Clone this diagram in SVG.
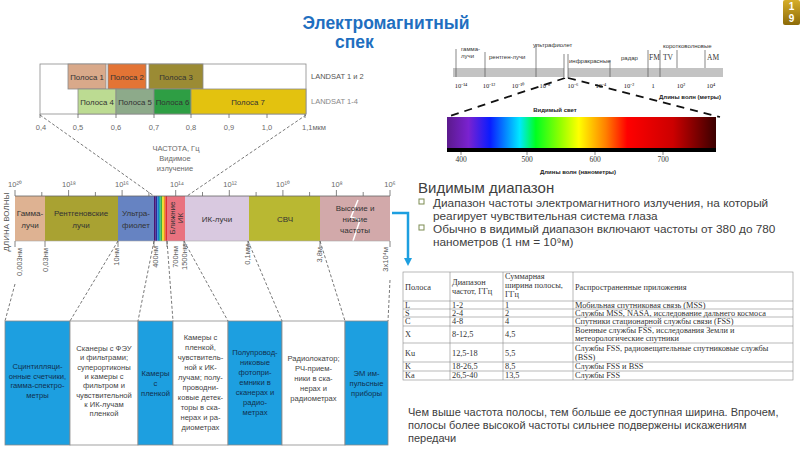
<svg xmlns="http://www.w3.org/2000/svg" width="800" height="450" viewBox="0 0 800 450">
<defs>
<linearGradient id="rainbow" x1="0" x2="1" y1="0" y2="0">
<stop offset="0" stop-color="#5b1a8c"/>
<stop offset="0.08" stop-color="#7a22d0"/>
<stop offset="0.16" stop-color="#0a1cff"/>
<stop offset="0.27" stop-color="#00e8ff"/>
<stop offset="0.33" stop-color="#00ff20"/>
<stop offset="0.42" stop-color="#90ff00"/>
<stop offset="0.49" stop-color="#ffff00"/>
<stop offset="0.59" stop-color="#ff8000"/>
<stop offset="0.67" stop-color="#ff0000"/>
<stop offset="0.84" stop-color="#cc0000"/>
<stop offset="1" stop-color="#3a0000"/>
</linearGradient>
<linearGradient id="gold" x1="0" x2="0" y1="0" y2="1">
<stop offset="0" stop-color="#d6ae2a"/>
<stop offset="1" stop-color="#8c6a08"/>
</linearGradient>
<marker id="arr" markerWidth="8" markerHeight="8" refX="4" refY="4" orient="auto" markerUnits="userSpaceOnUse">
<path d="M0,0 L8,4 L0,8 z" fill="#1d9fe0"/>
</marker>
</defs>
<style>
.s{font-family:"Liberation Sans",Arial,sans-serif;}
.r{font-family:"Liberation Serif","Times New Roman",serif;}
.band{stroke:#8a8a8a;stroke-width:0.8;}
.bt{font-size:7.8px;fill:#333;text-anchor:middle;}
.ax{font-size:7.5px;fill:#6a6a6a;text-anchor:middle;}
.tick{stroke:#666;stroke-width:0.8;}
.dash{stroke:#555;stroke-width:0.8;fill:none;stroke-dasharray:3,2;}
.seg{font-size:8px;fill:#333;text-anchor:middle;}
.wl{font-size:7.5px;fill:#5a5a5a;text-anchor:end;}
.box{stroke:#8a8a8a;stroke-width:0.8;}
.blue{fill:#1d9fe0;}
.white{fill:#ffffff;}
.bx{font-size:7.6px;text-anchor:middle;}
.bxb{fill:#10304f;}
.bxw{fill:#444;}
.tr{font-size:6px;fill:#333;}
.trn{font-size:6.5px;fill:#222;text-anchor:middle;}
.sep{stroke:#555;stroke-width:0.7;}
.bold{font-weight:bold;}
.body{font-size:11.8px;fill:#404040;}
.tb{font-size:8.3px;fill:#333;}
.tl{stroke:#8a8a8a;stroke-width:0.6;fill:none;}
</style>
<rect width="800" height="450" fill="#ffffff"/>

<g id="title">
<text class="s bold" x="386" y="29" font-size="17.5" fill="#1f6fc0" text-anchor="middle">Электромагнитный</text>
<text class="s bold" x="335" y="48" font-size="17.5" fill="#1f6fc0">спек</text>
</g>

<g id="badge">
<rect x="783" y="0" width="17" height="25" rx="2" fill="url(#gold)"/>
<text class="s bold" x="791.5" y="10" font-size="10" fill="#ffffff" text-anchor="middle">1</text>
<text class="s bold" x="791.5" y="22" font-size="10" fill="#ffffff" text-anchor="middle">9</text>
</g>

<g id="landsat">
<rect x="40" y="64" width="266" height="50" fill="#ffffff" class="band"/>
<rect x="68" y="64" width="38" height="25" fill="#d9a98a" class="band"/>
<rect x="108" y="64" width="38" height="25" fill="#e37435" class="band"/>
<rect x="149" y="64" width="54" height="25" fill="#9b8b34" class="band"/>
<rect x="78" y="89" width="38" height="25" fill="#bcdb92" class="band"/>
<rect x="116" y="89" width="38" height="25" fill="#8daa8a" class="band"/>
<rect x="154" y="89" width="37" height="25" fill="#2e9e44" class="band"/>
<rect x="191" y="89" width="115" height="25" fill="#e3c20f" class="band"/>
<text class="s bt" x="87" y="80">Полоса 1</text>
<text class="s bt" x="127" y="80">Полоса 2</text>
<text class="s bt" x="176" y="80">Полоса 3</text>
<text class="s bt" x="97" y="105">Полоса 4</text>
<text class="s bt" x="135" y="105">Полоса 5</text>
<text class="s bt" x="172.5" y="105">Полоса 6</text>
<text class="s bt" x="248" y="105">Полоса 7</text>
<text class="s" x="311" y="79" font-size="7.5" fill="#555">LANDSAT 1 и 2</text>
<text class="s" x="311" y="104" font-size="7.5" fill="#888">LANDSAT 1-4</text>
<path class="tick" d="M40,114 V118 M78,114 V118 M116,114 V118 M154,114 V118 M191,114 V118 M229,114 V118 M267,114 V118 M305,114 V118"/>
<text class="s ax" x="41" y="130">0,4</text>
<text class="s ax" x="78" y="130">0,5</text>
<text class="s ax" x="116" y="130">0,6</text>
<text class="s ax" x="154" y="130">0,7</text>
<text class="s ax" x="191" y="130">0,8</text>
<text class="s ax" x="229" y="130">0,9</text>
<text class="s ax" x="267" y="130">1,0</text>
<text class="s ax" x="314" y="130">1,1мкм</text>
</g>

<g id="freq-label">
<text class="s ax" x="176" y="151">ЧАСТОТА, Гц</text>
<text class="s ax" x="175" y="161">Видимое</text>
<text class="s ax" x="175" y="171">излучение</text>
</g>

<g id="spectrum-bar">
<rect x="15" y="196" width="30" height="45" fill="#deb292"/>
<rect x="45" y="196" width="73" height="45" fill="#a9a232"/>
<rect x="118" y="196" width="36" height="45" fill="#6683c2"/>
<rect x="154" y="196" width="1.7" height="45" fill="#4b1470"/>
<rect x="155.6" y="196" width="1.7" height="45" fill="#2a2a9a"/>
<rect x="157.3" y="196" width="1.7" height="45" fill="#1a7ad0"/>
<rect x="158.9" y="196" width="1.7" height="45" fill="#20b0a0"/>
<rect x="160.5" y="196" width="1.7" height="45" fill="#40b040"/>
<rect x="162.1" y="196" width="1.7" height="45" fill="#ece020"/>
<rect x="163.8" y="196" width="1.7" height="45" fill="#f09020"/>
<rect x="165.4" y="196" width="1.6" height="45" fill="#e03030"/>
<rect x="167" y="196" width="18" height="45" fill="#e9727f"/>
<rect x="185" y="196" width="64" height="45" fill="#d9c9e0"/>
<rect x="249" y="196" width="71" height="45" fill="#b9b832"/>
<rect x="320" y="196" width="70" height="45" fill="#d2a9aa"/>
<polyline points="358,200 351,217 360,220 353,241" fill="none" stroke="#ffffff" stroke-width="1.5"/>
<line x1="15" y1="196" x2="390" y2="196" class="tick"/>
<line x1="15" y1="241" x2="390" y2="241" stroke="#aaa" stroke-width="0.6"/>
<path class="tick" d="M15,190 V196 M68.6,190 V196 M122.1,190 V196 M175.7,190 V196 M229.3,190 V196 M282.9,190 V196 M336.4,190 V196 M390,190 V196 M41.8,192 V196 M95.4,192 V196 M148.9,192 V196 M202.5,192 V196 M256.1,192 V196 M309.6,192 V196 M363.2,192 V196"/>
<text class="s ax" x="15" y="187" font-size="8">10²⁰</text>
<text class="s ax" x="69" y="187" font-size="8">10¹⁸</text>
<text class="s ax" x="122" y="187" font-size="8">10¹⁶</text>
<text class="s ax" x="177" y="187" font-size="8">10¹⁴</text>
<text class="s ax" x="230" y="187" font-size="8">10¹²</text>
<text class="s ax" x="283" y="187" font-size="8">10¹⁰</text>
<text class="s ax" x="337" y="187" font-size="8">10⁸</text>
<text class="s ax" x="390" y="187" font-size="8">10⁶</text>
<text class="s seg" x="30" y="216">Гамма-</text>
<text class="s seg" x="30" y="228">лучи</text>
<text class="s seg" x="81" y="216">Рентгеновские</text>
<text class="s seg" x="81" y="228">лучи</text>
<text class="s seg" x="136" y="216">Ультра-</text>
<text class="s seg" x="136" y="228">фиолет</text>
<text class="s seg" transform="translate(175,218) rotate(-90)" fill="#ffffff">Ближние</text>
<text class="s seg" transform="translate(183,218) rotate(-90)" fill="#5a1020">ИК</text>
<text class="s seg" x="217" y="222">ИК-лучи</text>
<text class="s seg" x="285" y="222">СВЧ</text>
<text class="s seg" x="355" y="211">Высокие и</text>
<text class="s seg" x="355" y="222">низкие</text>
<text class="s seg" x="355" y="233">частоты</text>
<text class="s" transform="translate(9,222) rotate(-90)" font-size="8" fill="#555" text-anchor="middle">ДЛИНА ВОЛНЫ</text>
<path class="tick" d="M15,241 V247 M45,241 V247 M118,241 V247 M154,241 V247 M167,241 V247 M184,241 V247 M248,241 V247 M320,241 V247 M390,241 V247"/>
<text class="s wl" transform="translate(22,248) rotate(-90)">0,003нм</text>
<text class="s wl" transform="translate(48,248) rotate(-90)">0,03нм</text>
<text class="s wl" transform="translate(119,248) rotate(-90)">10нм</text>
<text class="s wl" transform="translate(158,246) rotate(-90)">400нм</text>
<text class="s wl" transform="translate(178,246) rotate(-90)">700нм</text>
<text class="s wl" transform="translate(187,244) rotate(-90)">1500нм</text>
<text class="s wl" transform="translate(250,244) rotate(-90)">0,1мм</text>
<text class="s wl" transform="translate(322,247) rotate(-90)">3,8м</text>
<text class="s wl" transform="translate(388,247) rotate(-90)">3х10⁴м</text>
</g>

<g id="connectors">
<line class="dash" x1="40" y1="115" x2="154" y2="196"/>
<line class="dash" x1="306" y1="115" x2="187" y2="196"/>
<line class="dash" x1="15" y1="284" x2="5" y2="321"/>
<line class="dash" x1="118" y1="241" x2="70" y2="321"/>
<line class="dash" x1="154" y1="241" x2="138" y2="321"/>
<line class="dash" x1="167" y1="241" x2="173" y2="321"/>
<line class="dash" x1="184" y1="241" x2="228" y2="321"/>
<line class="dash" x1="248" y1="241" x2="282" y2="321"/>
<line class="dash" x1="320" y1="241" x2="345" y2="321"/>
<line class="dash" x1="390" y1="280" x2="388" y2="321"/>
<path d="M392,213 H408 V262" fill="none" stroke="#1d9fe0" stroke-width="2.5" marker-end="url(#arr)"/>
<path d="M565,78 L450,116" fill="none" stroke="#111" stroke-width="1.8" stroke-dasharray="8,6"/>
<path d="M568,78 L720,117" fill="none" stroke="#111" stroke-width="1.8" stroke-dasharray="8,6"/>
</g>

<g id="box1">
<rect x="5" y="321" width="65" height="124" class="box blue"/>
<text class="s bx bxb" y="369"><tspan x="37.5">Сцинтилляци-</tspan><tspan x="37.5" dy="9.5">онные счетчики,</tspan><tspan x="37.5" dy="9.5">гамма-спектро-</tspan><tspan x="37.5" dy="9.5">метры</tspan></text>
</g>
<g id="box2">
<rect x="70" y="321" width="68" height="124" class="box white"/>
<text class="s bx bxw" y="351"><tspan x="104">Сканеры с ФЭУ</tspan><tspan x="104" dy="9.3">и фильтрами;</tspan><tspan x="104" dy="9.3">суперортиконы</tspan><tspan x="104" dy="9.3">и камеры с</tspan><tspan x="104" dy="9.3">фильтром и</tspan><tspan x="104" dy="9.3">чувствительной</tspan><tspan x="104" dy="9.3">к ИК-лучам</tspan><tspan x="104" dy="9.3">пленкой</tspan></text>
</g>
<g id="box3">
<rect x="138" y="321" width="35" height="124" class="box blue"/>
<text class="s bx bxb" y="376"><tspan x="155.5">Камеры</tspan><tspan x="155.5" dy="10">с</tspan><tspan x="155.5" dy="10">пленкой</tspan></text>
</g>
<g id="box4">
<rect x="173" y="321" width="55" height="124" class="box white"/>
<text class="s bx bxw" y="340"><tspan x="200.5">Камеры с</tspan><tspan x="200.5" dy="10">пленкой,</tspan><tspan x="200.5" dy="10">чувствитель-</tspan><tspan x="200.5" dy="10">ной к ИК-</tspan><tspan x="200.5" dy="10">лучам; полу-</tspan><tspan x="200.5" dy="10">проводни-</tspan><tspan x="200.5" dy="10">ковые детек-</tspan><tspan x="200.5" dy="10">торы в ска-</tspan><tspan x="200.5" dy="10">нерах и ра-</tspan><tspan x="200.5" dy="10">диометрах</tspan></text>
</g>
<g id="box5">
<rect x="228" y="321" width="54" height="124" class="box blue"/>
<text class="s bx bxb" y="355"><tspan x="255">Полупровод-</tspan><tspan x="255" dy="10">никовые</tspan><tspan x="255" dy="10">фотопри-</tspan><tspan x="255" dy="10">емники в</tspan><tspan x="255" dy="10">сканерах и</tspan><tspan x="255" dy="10">радио-</tspan><tspan x="255" dy="10">метрах</tspan></text>
</g>
<g id="box6">
<rect x="282" y="321" width="63" height="124" class="box white"/>
<text class="s bx bxw" y="361"><tspan x="313.5">Радиолокатор;</tspan><tspan x="313.5" dy="10">РЧ-прием-</tspan><tspan x="313.5" dy="10">ники в ска-</tspan><tspan x="313.5" dy="10">нерах и</tspan><tspan x="313.5" dy="10">радиометрах</tspan></text>
</g>
<g id="box7">
<rect x="345" y="321" width="43" height="124" class="box blue"/>
<text class="s bx bxb" y="376"><tspan x="366.5">ЭМ им-</tspan><tspan x="366.5" dy="10">пульсные</tspan><tspan x="366.5" dy="10">приборы</tspan></text>
</g>

<g id="em-scale">
<rect x="453" y="68" width="270" height="9" fill="#c3c3c3"/>
<rect x="564" y="67" width="4" height="11" fill="#ffffff"/>
<path class="sep" d="M456,49 V77 M485,52 V77 M536,44 V77 M564,54 V78 M568,54 V78 M610,60 V77 M648,50 V77 M660,50 V77 M677,50 V68 M705,50 V68"/>
<text class="s tr" x="461" y="51">гамма-</text>
<text class="s tr" x="461" y="58">лучи</text>
<text class="s tr" x="489" y="59">рентген-лучи</text>
<text class="s tr" x="533" y="47">ультрафиолет</text>
<text class="s tr" x="569" y="63">инфракрасные</text>
<text class="s tr" x="621" y="60">радар</text>
<text class="r" x="649" y="60" font-size="7.5" fill="#333">FM</text>
<text class="r" x="663" y="60" font-size="7.5" fill="#333">TV</text>
<text class="s tr" x="663" y="48">коротковолновые</text>
<text class="r" x="707" y="60" font-size="7.5" fill="#333">AM</text>
<text class="r trn" x="461" y="88">10⁻¹⁴</text>
<text class="r trn" x="489" y="88">10⁻¹²</text>
<text class="r trn" x="518" y="88">10⁻¹⁰</text>
<text class="r trn" x="545" y="88">10⁻⁸</text>
<text class="r trn" x="573" y="88">10⁻⁶</text>
<text class="r trn" x="601" y="88">10⁻⁴</text>
<text class="r trn" x="629" y="88">10⁻²</text>
<text class="r trn" x="653" y="88">1</text>
<text class="r trn" x="681" y="88">10²</text>
<text class="r trn" x="711" y="88">10⁴</text>
<text class="s bold" x="690" y="99" font-size="6" fill="#222" text-anchor="middle">Длины волн (метры)</text>
</g>

<g id="visible-spectrum">
<text class="s bold" x="555" y="112" font-size="6" fill="#222" text-anchor="middle">Видимый свет</text>
<rect x="447" y="117" width="269" height="31" fill="url(#rainbow)"/>
<rect x="447" y="148" width="269" height="4" fill="#000000"/>
<path class="tick" d="M461,152 V155 M527,152 V155 M595,152 V155 M663,152 V155"/>
<text class="r" x="461" y="162" font-size="7.5" fill="#333" text-anchor="middle">400</text>
<text class="r" x="527" y="162" font-size="7.5" fill="#333" text-anchor="middle">500</text>
<text class="r" x="595" y="162" font-size="7.5" fill="#333" text-anchor="middle">600</text>
<text class="r" x="663" y="162" font-size="7.5" fill="#333" text-anchor="middle">700</text>
<text class="s bold" x="578" y="174" font-size="6" fill="#222" text-anchor="middle">Длины волн (нанометры)</text>
</g>

<g id="visible-text">
<text class="s" x="418" y="193" font-size="15" fill="#404040">Видимым диапазон</text>
<rect x="419" y="199" width="5" height="5" fill="none" stroke="#7d8c52" stroke-width="1"/>
<text class="s body" x="433" y="207">Диапазон частоты электромагнитного излучения, на который</text>
<text class="s body" x="433" y="219.5">реагирует чувствительная система глаза</text>
<rect x="419" y="225" width="5" height="5" fill="none" stroke="#7d8c52" stroke-width="1"/>
<text class="s body" x="433" y="233">Обычно в видимый диапазон включают частоты от 380 до 780</text>
<text class="s body" x="433" y="245.5">нанометров (1 нм = 10⁹м)</text>
</g>

<g id="table">
<rect x="403" y="272" width="390" height="108" class="tl"/>
<path class="tl" d="M450,272 V380 M503,272 V380 M573,272 V380 M403,301 H793 M403,309 H793 M403,317 H793 M403,326 H793 M403,343 H793 M403,362 H793 M403,371 H793"/>
<text class="r tb" x="405" y="290">Полоса</text>
<text class="r tb" x="452" y="285">Диапазон</text>
<text class="r tb" x="452" y="294">частот, ГГц</text>
<text class="r tb" x="505" y="279">Суммарная</text>
<text class="r tb" x="505" y="288">ширина  полосы,</text>
<text class="r tb" x="505" y="297">ГГц</text>
<text class="r tb" x="575" y="290">Распространенные приложения</text>
<text class="r tb" x="405" y="307.5">L</text><text class="r tb" x="452" y="307.5">1-2</text><text class="r tb" x="505" y="307.5">1</text><text class="r tb" x="575" y="307.5">Мобильная спутниковая связь (MSS)</text>
<text class="r tb" x="405" y="315.5">S</text><text class="r tb" x="452" y="315.5">2-4</text><text class="r tb" x="505" y="315.5">2</text><text class="r tb" x="575" y="315.5">Службы MSS, NASA, исследование дальнего космоса</text>
<text class="r tb" x="405" y="324">C</text><text class="r tb" x="452" y="324">4-8</text><text class="r tb" x="505" y="324">4</text><text class="r tb" x="575" y="324">Спутники стационарной службы связи (FSS)</text>
<text class="r tb" x="405" y="337">X</text><text class="r tb" x="452" y="337">8-12,5</text><text class="r tb" x="505" y="337">4,5</text><text class="r tb" x="575" y="332.5">Военные службы FSS, исследования Земли и</text><text class="r tb" x="575" y="341">метеорологические спутники</text>
<text class="r tb" x="405" y="355.5">Ku</text><text class="r tb" x="452" y="355.5">12,5-18</text><text class="r tb" x="505" y="355.5">5,5</text><text class="r tb" x="575" y="350.5">Службы FSS, радиовещательные спутниковые службы</text><text class="r tb" x="575" y="359.5">(BSS)</text>
<text class="r tb" x="405" y="369">K</text><text class="r tb" x="452" y="369">18-26,5</text><text class="r tb" x="505" y="369">8,5</text><text class="r tb" x="575" y="369">Службы FSS и BSS</text>
<text class="r tb" x="405" y="378">Ka</text><text class="r tb" x="452" y="378">26,5-40</text><text class="r tb" x="505" y="378">13,5</text><text class="r tb" x="575" y="378">Службы FSS</text>
</g>

<g id="note">
<text class="s" x="408" y="416" font-size="11" fill="#404040">Чем выше частота полосы, тем больше ее доступная ширина. Впрочем,</text>
<text class="s" x="408" y="429" font-size="11" fill="#404040">полосы более высокой частоты сильнее подвержены искажениям</text>
<text class="s" x="408" y="442" font-size="11" fill="#404040">передачи</text>
</g>
</svg>
